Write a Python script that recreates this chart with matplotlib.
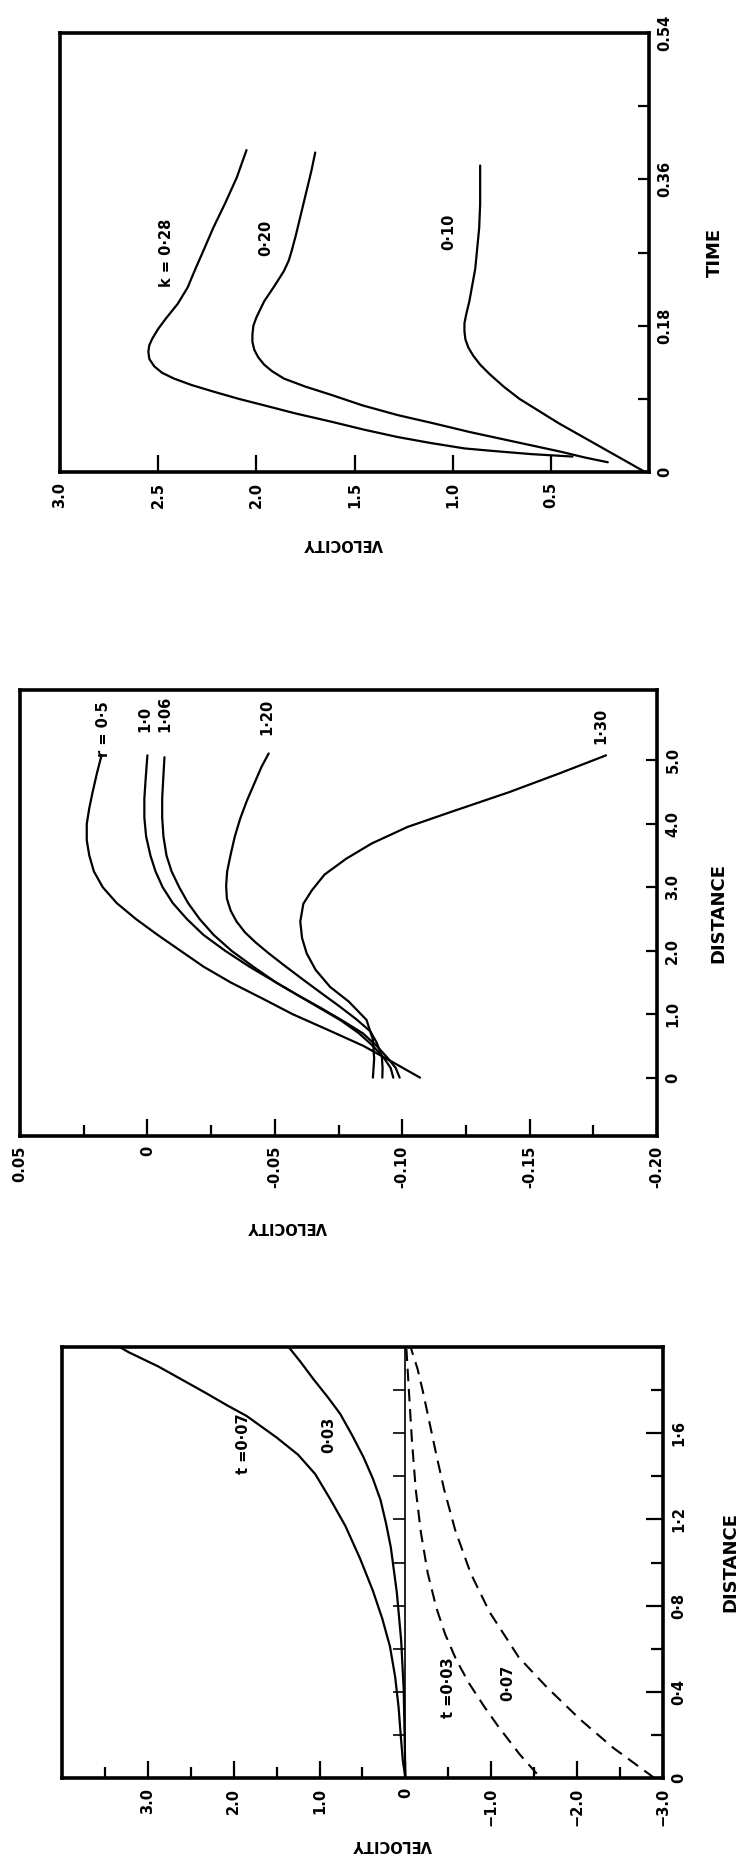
import matplotlib
matplotlib.use("Agg")
import matplotlib.pyplot as plt

plt.rcParams["font.family"] = ["DejaVu Sans"]
plt.rcParams["font.weight"] = "bold"
plt.rcParams["axes.labelweight"] = "bold"

# ---- top panel: velocity against time for three values of k
time_k028 = [0.019, 0.022, 0.026, 0.029, 0.036, 0.043, 0.052, 0.062, 0.072, 0.082,
             0.090, 0.099, 0.107, 0.115, 0.122, 0.130, 0.139, 0.148, 0.156, 0.164,
             0.176, 0.189, 0.207, 0.227, 0.250, 0.272, 0.300, 0.330, 0.362, 0.396]
vel_k028 = [0.39, 0.60, 0.80, 0.94, 1.12, 1.28, 1.45, 1.62, 1.80, 1.96,
            2.09, 2.22, 2.33, 2.42, 2.48, 2.52, 2.545, 2.55, 2.545, 2.53,
            2.50, 2.46, 2.40, 2.35, 2.31, 2.27, 2.22, 2.16, 2.10, 2.05]
time_k020 = [0.012, 0.018, 0.025, 0.037, 0.049, 0.060, 0.070, 0.082, 0.095, 0.105,
             0.115, 0.124, 0.132, 0.141, 0.150, 0.160, 0.169, 0.180, 0.190, 0.200,
             0.210, 0.228, 0.247, 0.260, 0.272, 0.290, 0.310, 0.330, 0.350, 0.370, 0.393]
vel_k020 = [0.21, 0.33, 0.45, 0.68, 0.91, 1.10, 1.28, 1.46, 1.62, 1.75,
            1.86, 1.92, 1.96, 1.99, 2.01, 2.02, 2.02, 2.015, 2.00, 1.98,
            1.96, 1.91, 1.86, 1.835, 1.82, 1.80, 1.78, 1.76, 1.74, 1.72, 1.70]
time_k010 = [0.0, 0.03, 0.06, 0.09, 0.105, 0.12, 0.132, 0.143, 0.153, 0.163,
             0.173, 0.183, 0.195, 0.21, 0.23, 0.25, 0.275, 0.30, 0.33, 0.36, 0.377]
vel_k010 = [0.02, 0.24, 0.46, 0.66, 0.74, 0.81, 0.86, 0.895, 0.92, 0.935,
            0.94, 0.94, 0.93, 0.915, 0.90, 0.885, 0.875, 0.865, 0.86, 0.86, 0.86]
k_labels = ["k = 0·28", "0·20", "0·10"]
k_label_pos = [(2.46, 0.27), (1.95, 0.288), (1.02, 0.296)]

time_ticks = [0, 0.18, 0.36, 0.54]
time_ticklabels = ["0", "0.18", "0.36", "0.54"]
time_minor = [0.09, 0.27, 0.45]
vel1_ticks = [3.0, 2.5, 2.0, 1.5, 1.0, 0.5]
vel1_ticklabels = ["3.0", "2.5", "2.0", "1.5", "1.0", "0.5"]

# ---- middle panel: velocity against distance for five values of r
dist_r05 = [0, 0.25, 0.5, 0.75, 1.0, 1.25, 1.5, 1.75, 2.0, 2.25, 2.5, 2.75, 3.0,
            3.25, 3.5, 3.74, 4.0, 4.25, 4.5, 4.8, 5.08]
vel_r05 = [-0.107, -0.096, -0.0848, -0.071, -0.057, -0.045, -0.0327, -0.022, -0.013,
           -0.004, 0.0045, 0.012, 0.0175, 0.021, 0.0228, 0.0238, 0.0238, 0.0228,
           0.0215, 0.0198, 0.018]
dist_r10 = [0, 0.15, 0.3, 0.5, 0.7, 0.9, 1.1, 1.3, 1.5, 1.75, 2.0, 2.25, 2.5, 2.75,
            3.0, 3.25, 3.5, 3.8, 4.1, 4.4, 4.7, 5.08]
vel_r10 = [-0.099, -0.0975, -0.0945, -0.090, -0.0845, -0.0765, -0.068, -0.059, -0.0505,
           -0.040, -0.0305, -0.022, -0.0155, -0.010, -0.006, -0.0032, -0.0012, 0.0005,
           0.0012, 0.0012, 0.0007, 0.0]
dist_r106 = [0, 0.15, 0.3, 0.5, 0.7, 0.9, 1.1, 1.3, 1.5, 1.75, 2.0, 2.25, 2.5, 2.75,
             3.0, 3.25, 3.5, 3.8, 4.1, 4.4, 4.7, 5.05]
vel_r106 = [-0.0965, -0.0955, -0.093, -0.0885, -0.083, -0.076, -0.0675, -0.059, -0.0505,
            -0.0415, -0.033, -0.026, -0.0205, -0.016, -0.0125, -0.0095, -0.0075, -0.0063,
            -0.0058, -0.0058, -0.0062, -0.0067]
dist_r120 = [0, 0.15, 0.34, 0.55, 0.73, 0.92, 1.12, 1.34, 1.56, 1.76, 1.96, 2.13, 2.29,
             2.46, 2.63, 2.82, 3.02, 3.25, 3.52, 3.8, 4.08, 4.36, 4.64, 4.9, 5.11]
vel_r120 = [-0.0922, -0.0923, -0.092, -0.090, -0.0875, -0.082, -0.0755, -0.068, -0.0606,
            -0.054, -0.0476, -0.0425, -0.0383, -0.035, -0.0327, -0.0312, -0.0309, -0.0313,
            -0.0327, -0.0343, -0.0364, -0.039, -0.042, -0.0448, -0.0476]
dist_r130 = [0, 0.3, 0.6, 0.91, 1.2, 1.43, 1.7, 1.96, 2.2, 2.46, 2.74, 2.95, 3.2, 3.45,
             3.69, 3.95, 4.2, 4.5, 4.8, 5.08]
vel_r130 = [-0.0885, -0.089, -0.0885, -0.086, -0.079, -0.0717, -0.066, -0.0625, -0.0607,
            -0.060, -0.0612, -0.0645, -0.0695, -0.078, -0.088, -0.102, -0.12, -0.142,
            -0.162, -0.18]
r_labels = ["r = 0·5", "1·0", "1·06", "1·20", "1·30"]
r_label_pos = [(0.0174, 5.5), (0.001, 5.65), (-0.007, 5.73), (-0.0468, 5.69), (-0.178, 5.55)]

dist2_ticks = [0, 1, 2, 3, 4, 5]
dist2_ticklabels = ["0", "1.0", "2.0", "3.0", "4.0", "5.0"]
vel2_ticks = [0.05, 0.0, -0.05, -0.10, -0.15, -0.20]
vel2_ticklabels = ["0.05", "0", "-0.05", "-0.10", "-0.15", "-0.20"]
vel2_minor = [0.025, -0.025, -0.075, -0.125, -0.175]

# ---- bottom panel: velocity against distance, solid and dashed families in t
dist_s007 = [0, 0.08, 0.2, 0.33, 0.47, 0.61, 0.74, 0.87, 1.02, 1.17, 1.29, 1.41, 1.50,
             1.58, 1.68, 1.73, 1.79, 1.85, 1.91, 1.975, 2.0]
vel_s007 = [0, 0.03, 0.055, 0.08, 0.12, 0.18, 0.27, 0.38, 0.53, 0.70, 0.87, 1.05, 1.25,
            1.50, 1.85, 2.08, 2.34, 2.61, 2.88, 3.22, 3.33]
dist_s003 = [0, 0.2, 0.41, 0.64, 0.86, 1.07, 1.18, 1.29, 1.39, 1.49, 1.59, 1.69, 1.77,
             1.85, 1.93, 2.0]
vel_s003 = [0, 0.01, 0.02, 0.05, 0.10, 0.17, 0.225, 0.29, 0.38, 0.49, 0.62, 0.76, 0.91,
            1.07, 1.22, 1.36]
dist_d003 = [0.02, 0.11, 0.24, 0.33, 0.44, 0.55, 0.67, 0.79, 0.95, 1.14, 1.34, 1.57, 1.8, 2.0]
vel_d003 = [-1.53, -1.33, -1.08, -0.92, -0.74, -0.59, -0.46, -0.36, -0.26, -0.18,
            -0.12, -0.075, -0.04, -0.01]
dist_d007 = [0.0, 0.14, 0.27, 0.42, 0.56, 0.77, 0.95, 1.15, 1.34, 1.5, 1.65, 1.8, 1.9, 2.0]
vel_d007 = [-2.90, -2.42, -2.04, -1.65, -1.32, -0.98, -0.76, -0.58, -0.45, -0.36,
            -0.28, -0.20, -0.14, -0.06]
t_labels = ["t =0·07", "0·03", "t =0·03", "0·07"]
t_label_pos = [(1.89, 1.55), (0.89, 1.59), (-0.5, 0.42), (-1.19, 0.44)]

dist3_ticks = [0, 0.4, 0.8, 1.2, 1.6]
dist3_ticklabels = ["0", "0·4", "0·8", "1·2", "1·6"]
dist3_minor = [0.2, 0.6, 1.0, 1.4, 1.8]
vel3_ticks = [3.0, 2.0, 1.0, 0.0, -1.0, -2.0, -3.0]
vel3_ticklabels = ["3.0", "2.0", "1.0", "0", "\u22121.0", "\u22122.0", "\u22123.0"]
vel3_minor = [3.5, 2.5, 1.5, 0.5, -0.5, -1.5, -2.5]

W, H = 743, 1866
fig = plt.figure(figsize=(W / 100, H / 100), dpi=100)


def panel(left, top, right, bottom):
    ax = fig.add_axes([left / W, 1 - bottom / H, (right - left) / W, (bottom - top) / H])
    for s in ax.spines.values():
        s.set_linewidth(2.6)
    ax.xaxis.set_ticks_position("bottom")
    ax.yaxis.set_ticks_position("right")
    ax.yaxis.set_label_position("right")
    ax.tick_params(which="both", direction="in", width=1.6, labelsize=10.5)
    ax.tick_params(axis="x", which="major", length=12, pad=7)
    ax.tick_params(axis="x", which="minor", length=8)
    ax.tick_params(axis="y", which="major", length=8, pad=6)
    ax.tick_params(axis="y", which="minor", length=8)
    return ax


line_kw = dict(color="black", lw=1.6, solid_capstyle="round", solid_joinstyle="round")
dash_kw = dict(color="black", lw=1.5, linestyle=(0, (6, 3.7)))
note_kw = dict(rotation=90, ha="center", va="center", fontsize=10.5)

# top panel
ax1 = panel(60, 33, 649, 472)
ax1.plot(vel_k028, time_k028, **line_kw)
ax1.plot(vel_k020, time_k020, **line_kw)
ax1.plot(vel_k010, time_k010, **line_kw)
for txt, (v, t) in zip(k_labels, k_label_pos):
    ax1.text(v, t, txt, **note_kw)
ax1.set_xlim(3.0, 0.0)
ax1.set_ylim(0, 0.54)
ax1.set_xticks(vel1_ticks, vel1_ticklabels, rotation=90)
ax1.set_yticks(time_ticks, time_ticklabels, rotation=90, va="center")
ax1.set_yticks(time_minor, minor=True)
ax1.set_xlabel("VELOCITY", rotation=180, fontsize=10.5)
ax1.xaxis.set_label_coords(0.48, -0.145)
ax1.set_ylabel("TIME", rotation=90, fontsize=13)
ax1.yaxis.set_label_coords(1.097, 0.5)

# middle panel
ax2 = panel(20, 690, 657, 1136)
for v, d in [(vel_r05, dist_r05), (vel_r10, dist_r10), (vel_r106, dist_r106),
             (vel_r120, dist_r120), (vel_r130, dist_r130)]:
    ax2.plot(v, d, **line_kw)
for txt, (v, d) in zip(r_labels, r_label_pos):
    ax2.text(v, d, txt, **note_kw)
ax2.set_xlim(0.05, -0.20)
ax2.set_ylim(-0.92, 6.11)
ax2.set_xticks(vel2_ticks, vel2_ticklabels, rotation=90)
ax2.set_xticks(vel2_minor, minor=True)
ax2.set_yticks(dist2_ticks, dist2_ticklabels, rotation=90, va="center")
ax2.set_xlabel("VELOCITY", rotation=180, fontsize=10.5)
ax2.xaxis.set_label_coords(0.42, -0.185)
ax2.set_ylabel("DISTANCE", rotation=90, fontsize=13)
ax2.yaxis.set_label_coords(1.082, 0.5)

# bottom panel
ax3 = panel(62, 1347, 663, 1778)
ax3.axvline(0, color="black", lw=1.2)
ax3.hlines(dist3_ticks[1:] + dist3_minor, 0, 0.15, color="black", lw=1.2)
ax3.plot(vel_s007, dist_s007, **line_kw)
ax3.plot(vel_s003, dist_s003, **line_kw)
ax3.plot(vel_d003, dist_d003, **dash_kw)
ax3.plot(vel_d007, dist_d007, **dash_kw)
for txt, (v, d) in zip(t_labels, t_label_pos):
    ax3.text(v, d, txt, **note_kw)
ax3.set_xlim(4.0, -3.0)
ax3.set_ylim(0, 2.0)
ax3.set_xticks(vel3_ticks, vel3_ticklabels, rotation=90)
ax3.set_xticks(vel3_minor, minor=True)
ax3.set_yticks(dist3_ticks, dist3_ticklabels, rotation=90, va="center")
ax3.set_yticks(dist3_minor, minor=True)
ax3.tick_params(axis="y", which="major", length=12)
ax3.tick_params(axis="y", which="minor", length=9)
ax3.set_xlabel("VELOCITY", rotation=180, fontsize=10.5)
ax3.xaxis.set_label_coords(0.55, -0.137)
ax3.set_ylabel("DISTANCE", rotation=90, fontsize=13)
ax3.yaxis.set_label_coords(1.097, 0.5)

fig.savefig("out.png", dpi=100, facecolor="white")
